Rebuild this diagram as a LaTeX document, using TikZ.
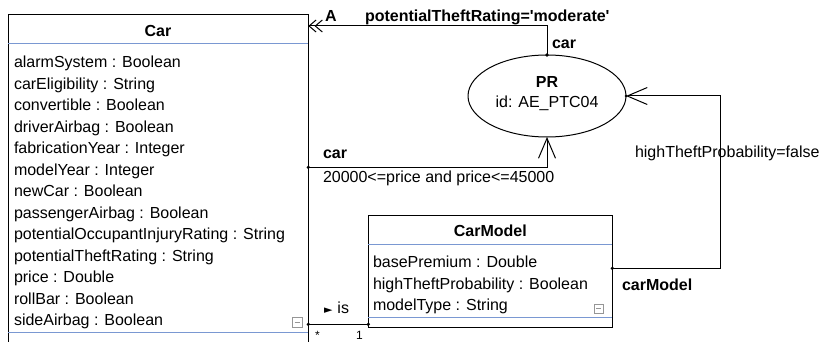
\documentclass[tikz,border=0pt]{standalone}
\usepackage{fontspec}
\setmainfont{Liberation Sans}
\newfontfamily\symfont{DejaVu Sans}
\usetikzlibrary{arrows.meta,shapes.geometric}
\definecolor{sepblue}{RGB}{122,152,210}
\definecolor{icongray}{RGB}{150,150,150}
\begin{document}
\begin{tikzpicture}[x=1pt,y=-1pt,
  every node/.style={inner sep=0pt, outer sep=0pt, font=\fontsize{16}{19}\selectfont},
  lbl/.style={anchor=base west},
  bl/.style={anchor=base west, font=\fontsize{16}{19}\selectfont\bfseries},
  classbox/.style={draw, line width=1pt, rectangle, anchor=north west},
  conn/.style={line width=1pt},
  barb/.style={-{Straight Barb[length=20pt,width=17pt]}},
  dbl/.style={-{Straight Barb[length=7pt,width=12pt,sep=-2pt]Straight Barb[length=7pt,width=12pt]}},
  sep/.style={draw=sepblue, line width=1pt},
  icon/.style={draw=icongray, line width=0.8pt}
]
\clip (0,0) rectangle (826,342);
\fill[white] (0,0) rectangle (826,342);

% Car class
\node[classbox, minimum width=300pt, minimum height=360pt] (car) at (8.3,15) {};
\node[bl, anchor=base] (cartitle) at (158,37) {Car};
\draw[sep] (8.3,44) -- (308.3,44);
\foreach \t [count=\i from 0] in {alarmSystem : Boolean, carEligibility : String, convertible : Boolean, driverAirbag : Boolean, fabricationYear : Integer, modelYear : Integer, newCar : Boolean, passengerAirbag : Boolean, potentialOccupantInjuryRating : String, potentialTheftRating : String, price : Double, rollBar : Boolean, sideAirbag : Boolean}
  \node[lbl] (ca\i) at (14, 67.7+21.5*\i) {\t};
\draw[icon] (292,317) rectangle (302,327);
\draw[icon] (294.5,322) -- (299.5,322);
\draw[sep] (8.3,332.7) -- (308.3,332.7);

% CarModel class
\node[classbox, minimum width=244pt, minimum height=112.3pt] (carmodel) at (368.3,215) {};
\node[bl, anchor=base] (cmtitle) at (490.3,236) {CarModel};
\draw[sep] (368.3,244) -- (612.3,244);
\node[lbl] (cm0) at (373,267.7) {basePremium : Double};
\node[lbl] (cm1) at (373,289.2) {highTheftProbability : Boolean};
\node[lbl] (cm2) at (373,310.7) {modelType : String};
\draw[icon] (594,304) rectangle (603,313);
\draw[icon] (596,308.5) -- (601,308.5);
\draw[sep] (368.3,317.3) -- (612.3,317.3);

% PR ellipse
\node[draw, ellipse, line width=1pt, minimum width=158pt, minimum height=82pt] (pr) at (547,96) {};
\node[bl, anchor=base] (prname) at (547,88) {PR};
\node[anchor=base] (prid) at (547,107) {id: AE\_PTC04};

% helper coordinates
\coordinate (t1) at (0,26);
\coordinate (m1) at (0,167.3);
\coordinate (r1) at (0,268.3);
\coordinate (rc) at (720,96);
\coordinate (i1) at (0,324.3);

% connectors
\draw[conn, dbl] (pr.north) |- (car.east |- t1);
\fill (pr.north) circle (1.8pt);
\draw[conn, barb] (car.east |- m1) -| (pr.south);
\fill (car.east |- m1) circle (1.8pt);
\draw[conn, barb] (carmodel.east |- r1) -| (rc |- pr.east) -- (pr.east);
\fill (carmodel.east |- r1) circle (1.8pt);
\fill (pr.east) circle (1.5pt);
\draw[conn] (car.east |- i1) -- (carmodel.west |- i1);
\fill (car.east |- i1) circle (1.8pt);
\fill (carmodel.west |- i1) circle (1.8pt);

% labels
\node[bl] (la) at (325,21.5) {A};
\node[bl] (lptr) at (365,21.5) {potentialTheftRating=\textquotesingle moderate\textquotesingle};
\node[bl] (lcar1) at (552,48.5) {car};
\node[bl] (lcar2) at (323,158) {car};
\node[lbl] (lprice) at (323,182) {20000<=price and price<=45000};
\node[lbl] (lhtp) at (635,157) {highTheftProbability=false};
\node[bl] (lcm) at (622,290) {carModel};
\node[lbl] (lis) at (324,313) {{\symfont\fontsize{11}{11}\selectfont ►}\hspace{5pt}is};
\node[lbl, font=\fontsize{12}{14}\selectfont] (lstar) at (315,339) {*};
\node[lbl, font=\fontsize{12}{14}\selectfont] (lone) at (356,339.5) {1};
\end{tikzpicture}
\end{document}
